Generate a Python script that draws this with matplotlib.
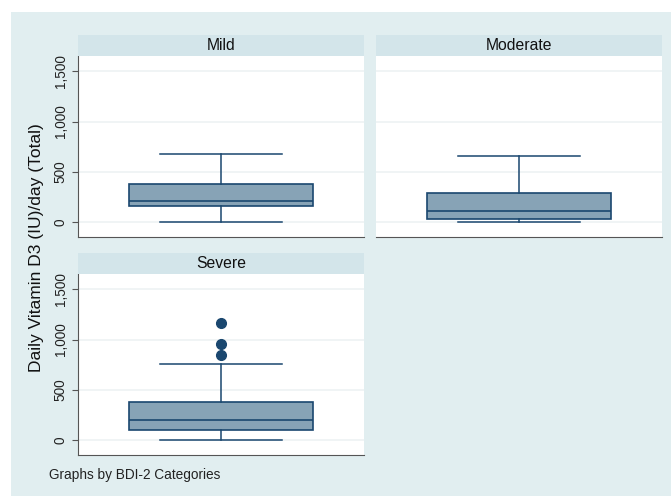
import matplotlib.pyplot as plt
from matplotlib.patches import Rectangle
from matplotlib.ticker import FuncFormatter

plt.rcParams['font.family'] = ['Liberation Sans', 'DejaVu Sans']

# BDI-2 groups and their vitamin D3 box summaries (IU/day)
categories = ['Mild', 'Moderate', 'Severe']
whisker_low = [0, 0, 0]
q1 = [165, 30, 102]
median = [215, 116, 205]
q3 = [376, 294, 379]
whisker_high = [680, 660, 755]
outliers = [[], [], [1168, 957, 851]]

yticks = [0, 500, 1000, 1500]

BG = '#e1eef0'
STRIP = '#d3e5ea'
NAVY = '#1a476f'
FILL = '#87a3b6'

fig = plt.figure(figsize=(6.71, 4.96), dpi=100)
fig.patches.append(Rectangle((11 / 671, 0), 1, 1 - 12 / 496, transform=fig.transFigure,
                             facecolor=BG, edgecolor='none', zorder=-1))

W, H = 671, 496
panels = {
    'Mild': (78, 56, 286, 181),
    'Moderate': (376, 56, 286, 181),
    'Severe': (78, 274, 286, 181),
}

for i, cat in enumerate(categories):
    x, y, w, h = panels[cat]
    ax = fig.add_axes([x / W, 1 - (y + h) / H, w / W, h / H])
    ax.set_facecolor('white')
    stats = [{
        'whislo': whisker_low[i], 'q1': q1[i], 'med': median[i],
        'q3': q3[i], 'whishi': whisker_high[i], 'fliers': outliers[i],
    }]
    ax.bxp(stats, positions=[0.5], widths=0.64, capwidths=0.43, patch_artist=True,
           boxprops=dict(facecolor=FILL, edgecolor=NAVY, linewidth=1.2),
           medianprops=dict(color=NAVY, linewidth=1.2),
           whiskerprops=dict(color=NAVY, linewidth=1.1),
           capprops=dict(color=NAVY, linewidth=1.1),
           flierprops=dict(marker='o', markerfacecolor=NAVY, markeredgecolor=NAVY,
                           markersize=7))
    ax.set_xlim(0, 1)
    ax.set_ylim(-145, 1650)
    ax.set_xticks([])
    ax.set_yticks(yticks)
    ax.grid(axis='y', color='#edf2f4', linewidth=1.2)
    ax.set_axisbelow(True)
    for s in ['top', 'right']:
        ax.spines[s].set_visible(False)
    ax.spines['bottom'].set_color('#555555')
    ax.spines['left'].set_color('#555555')
    if cat == 'Moderate':
        ax.spines['left'].set_visible(False)
        ax.tick_params(axis='y', left=False, labelleft=False)
    else:
        ax.yaxis.set_major_formatter(FuncFormatter(lambda v, p: f'{int(v):,}'))
        ax.tick_params(axis='y', length=4, color='#555555', labelsize=9.8,
                       labelcolor='#222222')
        for lab in ax.get_yticklabels():
            lab.set_rotation(90)
            lab.set_va('center')

    # strip title above each panel
    sax = fig.add_axes([x / W, 1 - y / H, w / W, 21 / H])
    sax.set_facecolor(STRIP)
    sax.set_xticks([])
    sax.set_yticks([])
    for s in sax.spines.values():
        s.set_visible(False)
    sax.text(0.5, 0.5, cat, ha='center', va='center', fontsize=11.3, color='#111111')

fig.text(37 / W, 0.5, 'Daily Vitamin D3 (IU)/day (Total)', rotation=90,
         ha='center', va='center', fontsize=12.5, color='#111111')
fig.text(49 / W, 1 - 475 / H, 'Graphs by BDI-2 Categories', ha='left', va='center',
         fontsize=9.8, color='#222222')

fig.savefig('out.png', dpi=100)
